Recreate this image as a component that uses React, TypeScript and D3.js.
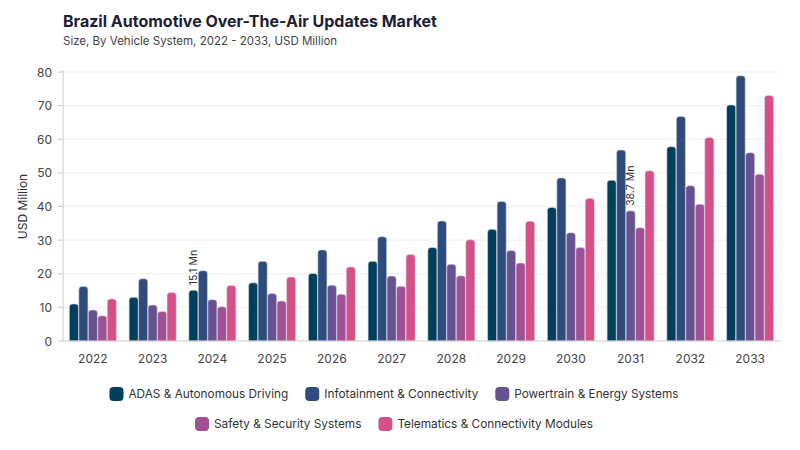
import * as d3 from 'd3';

const YEARS = ['2022', '2023', '2024', '2025', '2026', '2027', '2028', '2029', '2030', '2031', '2032', '2033'];

const SERIES_NAMES = [
  'ADAS & Autonomous Driving',
  'Infotainment & Connectivity',
  'Powertrain & Energy Systems',
  'Safety & Security Systems',
  'Telematics & Connectivity Modules',
];

const ADAS = [11.0, 13.0, 15.1, 17.3, 20.1, 23.7, 27.8, 33.2, 39.7, 47.8, 57.8, 70.2];
const INFOTAINMENT = [16.2, 18.5, 20.9, 23.7, 27.1, 31.0, 35.7, 41.5, 48.5, 56.8, 66.8, 78.9];
const POWERTRAIN = [9.2, 10.7, 12.3, 14.1, 16.6, 19.3, 22.8, 26.9, 32.2, 38.7, 46.2, 56.0];
const SAFETY = [7.5, 8.8, 10.2, 11.9, 13.9, 16.3, 19.4, 23.2, 27.8, 33.7, 40.7, 49.6];
const TELEMATICS = [12.5, 14.4, 16.5, 19.0, 22.0, 25.7, 30.1, 35.6, 42.4, 50.6, 60.5, 73.0];

const COLORS = ['#003f5c', '#2f4b7c', '#665191', '#a05195', '#d45087'];

const Y_TICKS = [0, 10, 20, 30, 40, 50, 60, 70, 80];

// callouts: [series index, year]
const CALLOUTS: [number, string][] = [
  [0, '2024'],
  [2, '2031'],
];

const FONT = 'Inter, "Noto Sans", sans-serif';

function measure(text: string, size: number) {
  const ctx = document.createElement('canvas').getContext('2d');
  if (!ctx) return text.length * size * 0.55;
  ctx.font = `${size}px Inter`;
  return ctx.measureText(text).width;
}

export default function App() {
  const w = 800;
  const h = 450;
  const margin = { top: 72, right: 20, bottom: 109, left: 63 };
  const innerW = w - margin.left - margin.right;
  const innerH = h - margin.top - margin.bottom;

  const series = [ADAS, INFOTAINMENT, POWERTRAIN, SAFETY, TELEMATICS];

  const x0 = d3.scaleBand<string>()
    .domain(YEARS)
    .range([0, innerW])
    .paddingInner(0.2)
    .paddingOuter(0.1);

  const x1 = d3.scaleBand<number>()
    .domain(d3.range(series.length))
    .range([0, x0.bandwidth()])
    .padding(0.04);

  const y = d3.scaleLinear()
    .domain([0, 80])
    .range([innerH, 0]);

  // legend rows
  const legendRows = [[0, 1, 2], [3, 4]];
  const swatch = 14;
  const itemGap = 17;
  const legendFont = 11.8;

  return (
    <svg width={w} height={h} style={{ display: 'block', position: 'absolute', left: 0, top: 0, background: '#fff' }}>
      <text x={63} y={27} fontFamily={FONT} fontSize={16} fontWeight={700} fill="#1d1d35">
        Brazil Automotive Over-The-Air Updates Market
      </text>
      <text x={63} y={45} fontFamily={FONT} fontSize={11.5} fill="#444">
        Size, By Vehicle System, 2022 - 2033, USD Million
      </text>

      <g transform={`translate(${margin.left},${margin.top})`}>
        {/* grid */}
        {Y_TICKS.filter(t => t > 0).map(t => (
          <line key={t} x1={0} x2={innerW} y1={y(t)} y2={y(t)} stroke="#efefef" strokeWidth={1} />
        ))}

        {/* y ticks */}
        {Y_TICKS.map(t => (
          <g key={`t-${t}`}>
            <line x1={-5} x2={0} y1={y(t)} y2={y(t)} stroke="#ccc" />
            <text
              x={-11} y={y(t)} textAnchor="end" dominantBaseline="central"
              fontFamily={FONT} fontSize={12} fill="#444"
            >
              {t}
            </text>
          </g>
        ))}

        {/* bars */}
        {YEARS.map((year, i) => (
          <g key={year} transform={`translate(${x0(year)},0)`}>
            {series.map((vals, s) => {
              const bx = x1(s)!;
              const bw = x1.bandwidth();
              const top = y(vals[i]);
              const r = 3;
              const d = `M${bx},${innerH} V${top + r} Q${bx},${top} ${bx + r},${top} H${bx + bw - r} Q${bx + bw},${top} ${bx + bw},${top + r} V${innerH} Z`;
              return <path key={s} d={d} fill={COLORS[s]} stroke="#d9d9e6" strokeWidth={0.6} />;
            })}
          </g>
        ))}

        {/* callouts */}
        {CALLOUTS.map(([s, year]) => {
          const i = YEARS.indexOf(year);
          const cx = x0(year)! + x1(s)! + x1.bandwidth() / 2;
          const cy = y(series[s][i]) - 5;
          return (
            <text
              key={`${s}-${year}`}
              transform={`translate(${cx},${cy}) rotate(-90)`}
              dominantBaseline="central"
              fontFamily={FONT} fontSize={10.5} fill="#333"
            >
              {`${series[s][i]} Mn`}
            </text>
          );
        })}

        {/* axes */}
        <line x1={0} x2={0} y1={-2} y2={innerH} stroke="#ccc" />
        <line x1={0} x2={innerW} y1={innerH} y2={innerH} stroke="#ccc" />
        {YEARS.map(year => (
          <text
            key={`x-${year}`}
            x={x0(year)! + x0.bandwidth() / 2} y={innerH + 22}
            textAnchor="middle" fontFamily={FONT} fontSize={12} fill="#444"
          >
            {year}
          </text>
        ))}

        <text
          transform={`translate(${-41},${innerH / 2}) rotate(-90)`}
          textAnchor="middle" dominantBaseline="central"
          fontFamily={FONT} fontSize={12} fill="#333"
        >
          USD Million
        </text>
      </g>

      {/* legend */}
      {legendRows.map((row, ri) => {
        const widths = row.map(s => swatch + 5 + measure(SERIES_NAMES[s], legendFont));
        const total = d3.sum(widths) + itemGap * (row.length - 1);
        let cursor = 394 - total / 2;
        const cy = 394 + ri * 30;
        return (
          <g key={ri}>
            {row.map((s, k) => {
              const left = cursor;
              cursor += widths[k] + itemGap;
              return (
                <g key={s}>
                  <rect x={left} y={cy - swatch / 2} width={swatch} height={swatch} rx={4} fill={COLORS[s]} />
                  <text
                    x={left + swatch + 5} y={cy} dominantBaseline="central"
                    fontFamily={FONT} fontSize={legendFont} fill="#333"
                  >
                    {SERIES_NAMES[s]}
                  </text>
                </g>
              );
            })}
          </g>
        );
      })}
    </svg>
  );
}
